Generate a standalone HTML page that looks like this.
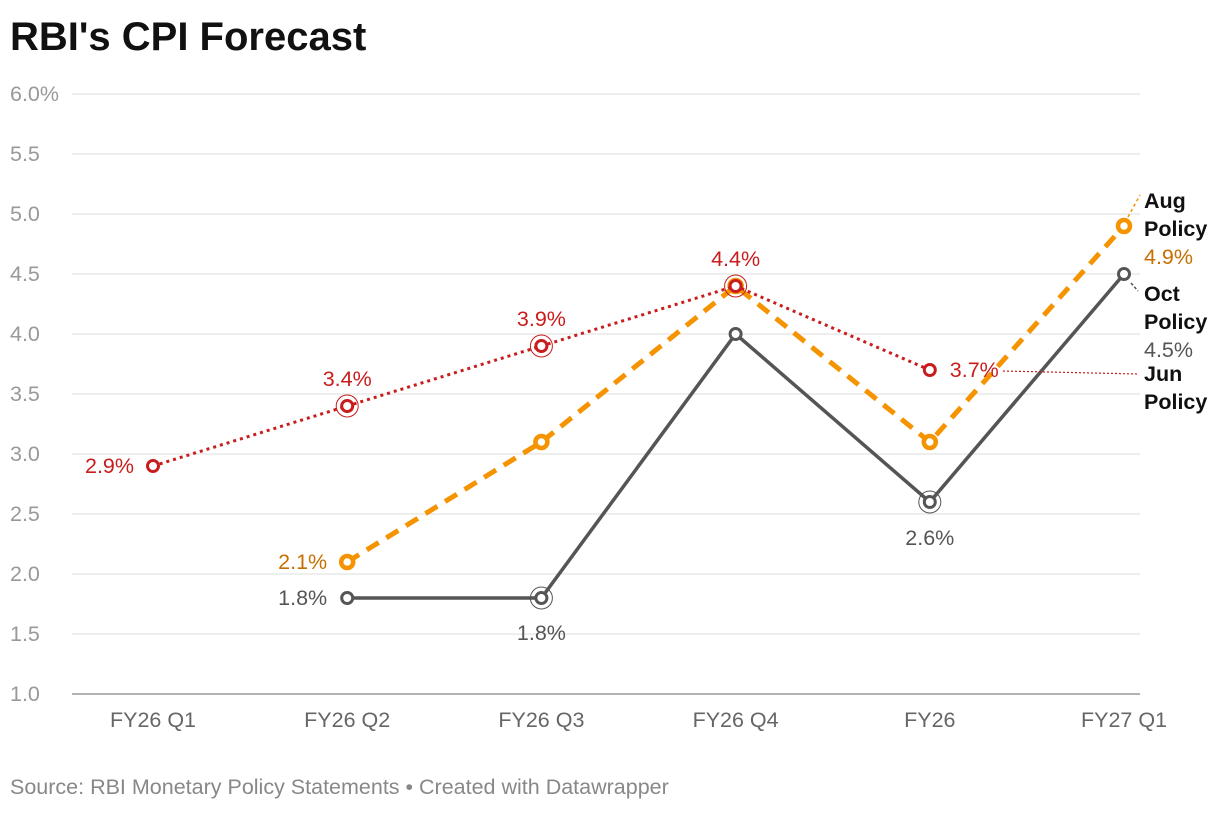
<!DOCTYPE html>
<html><head><meta charset="utf-8">
<style>
body{margin:0;background:#fff;width:1220px;height:810px;overflow:hidden;font-family:"Liberation Sans",sans-serif;}
</style></head>
<body>
<svg width="1220" height="810" id="chart" xmlns="http://www.w3.org/2000/svg">
<text x="10" y="50" font-size="40" font-weight="bold" fill="#111">RBI's CPI Forecast</text>
<text x="10" y="794" font-size="21.5" fill="#888">Source: RBI Monetary Policy Statements • Created with Datawrapper</text>
<g id="grid"></g><g id="series"></g><g id="labels"></g>
</svg>
<script>
const categories=["FY26 Q1","FY26 Q2","FY26 Q3","FY26 Q4","FY26","FY27 Q1"];
const yTicks=[1.0,1.5,2.0,2.5,3.0,3.5,4.0,4.5,5.0,5.5,6.0];
const junValues=[2.9,3.4,3.9,4.4,3.7,null];
const augValues=[null,2.1,3.1,4.4,3.1,4.9];
const octValues=[null,1.8,1.8,4.0,2.6,4.5];
const NS="http://www.w3.org/2000/svg";
const xs=i=>153+i*194.2;
const ys=v=>694-(v-1)*120;
function mk(tag,attrs,parent,txt){const e=document.createElementNS(NS,tag);for(const k in attrs)e.setAttribute(k,attrs[k]);if(txt!==undefined)e.textContent=txt;parent.appendChild(e);return e;}
const grid=document.getElementById('grid'),ser=document.getElementById('series'),lab=document.getElementById('labels');
yTicks.forEach((t,i)=>{
 const l=mk('line',{x1:72,x2:1140,y1:ys(t),y2:ys(t),stroke:i==0?'#666':'#ddd','stroke-width':1},grid);
 
 
 const tx=mk('text',{x:10,y:ys(t)+7,'font-size':21.5,fill:'#999'},grid,t.toFixed(1)+(i==yTicks.length-1?'%':''));
 
 
});
categories.forEach((c,i)=>{
 const tx=mk('text',{x:xs(i),y:727,'font-size':21.5,fill:'#666','text-anchor':'middle'},grid,c);
 
 
});
function drawSeries(vals,color,dash,width,name){
 let pts=[];vals.forEach((v,i)=>{if(v!==null)pts.push([xs(i),ys(v)]);});
 const p=mk('polyline',{points:pts.map(p=>p.join(',')).join(' '),fill:'none',stroke:color,'stroke-width':width,'stroke-dasharray':dash,'stroke-linecap':dash?'butt':'round'},ser);
 
 
 pts.forEach(q=>{
  const c=mk('circle',{cx:q[0],cy:q[1],r:name=='aug'?6:5.5,fill:'#fff',stroke:color,'stroke-width':name=='aug'?4.5:3},ser);
  
  
 });
}
drawSeries(octValues,'#555','',3.5,'oct');
drawSeries(augValues,'#f59300','14,9',5,'aug');
drawSeries(junValues,'#c91d1d','3,4',3,'jun');
[[1,junValues[1],'#c91d1d'],[2,junValues[2],'#c91d1d'],[3,junValues[3],'#c91d1d'],[2,octValues[2],'#555'],[4,octValues[4],'#555']].forEach(h=>{
 const c=mk('circle',{cx:xs(h[0]),cy:ys(h[1]),r:11,fill:'none',stroke:h[2],'stroke-width':1},ser);
 
 
});
function vl(i,v,dx,dy,color,anchor){
 const t=mk('text',{x:xs(i)+dx,y:ys(v)+dy,'font-size':21.5,fill:color,'text-anchor':anchor},lab,v.toFixed(1)+'%');
 
 
}
vl(0,junValues[0],-19,7,'#c91d1d','end');
vl(1,junValues[1],0,-20,'#c91d1d','middle');
vl(2,junValues[2],0,-20,'#c91d1d','middle');
vl(3,junValues[3],0,-20,'#c91d1d','middle');
vl(4,junValues[4],20,7,'#c91d1d','start');
vl(1,augValues[1],-20,7,'#c76f00','end');
vl(1,octValues[1],-20,7,'#555','end');
vl(2,octValues[2],0,42,'#555','middle');
vl(4,octValues[4],0,43,'#555','middle');
function seriesLabel(lines,x,y,color,name){
 lines.forEach((s,k)=>{const t=mk('text',{x:x,y:y+k*28,'font-size':21.5,'font-weight':k<2?'bold':'normal',fill:k<2?'#111':color},lab,s);
 
 });
}
seriesLabel(['Aug','Policy','4.9%'],1144,208,'#c76f00','aug');
seriesLabel(['Oct','Policy','4.5%'],1144,301,'#555','oct');
seriesLabel(['Jun','Policy'],1144,381,'#c91d1d','jun');
mk('line',{x1:1003,y1:371,x2:1138,y2:374,stroke:'#c91d1d','stroke-width':1.2,'stroke-dasharray':'2,2'},lab);
mk('line',{x1:1128,y1:217,x2:1140,y2:195,stroke:'#f59300','stroke-width':1.5,'stroke-dasharray':'3,3'},lab);
mk('line',{x1:1131,y1:283,x2:1138,y2:291,stroke:'#555','stroke-width':1.5,'stroke-dasharray':'3,2'},lab);
</script>
</body></html>
